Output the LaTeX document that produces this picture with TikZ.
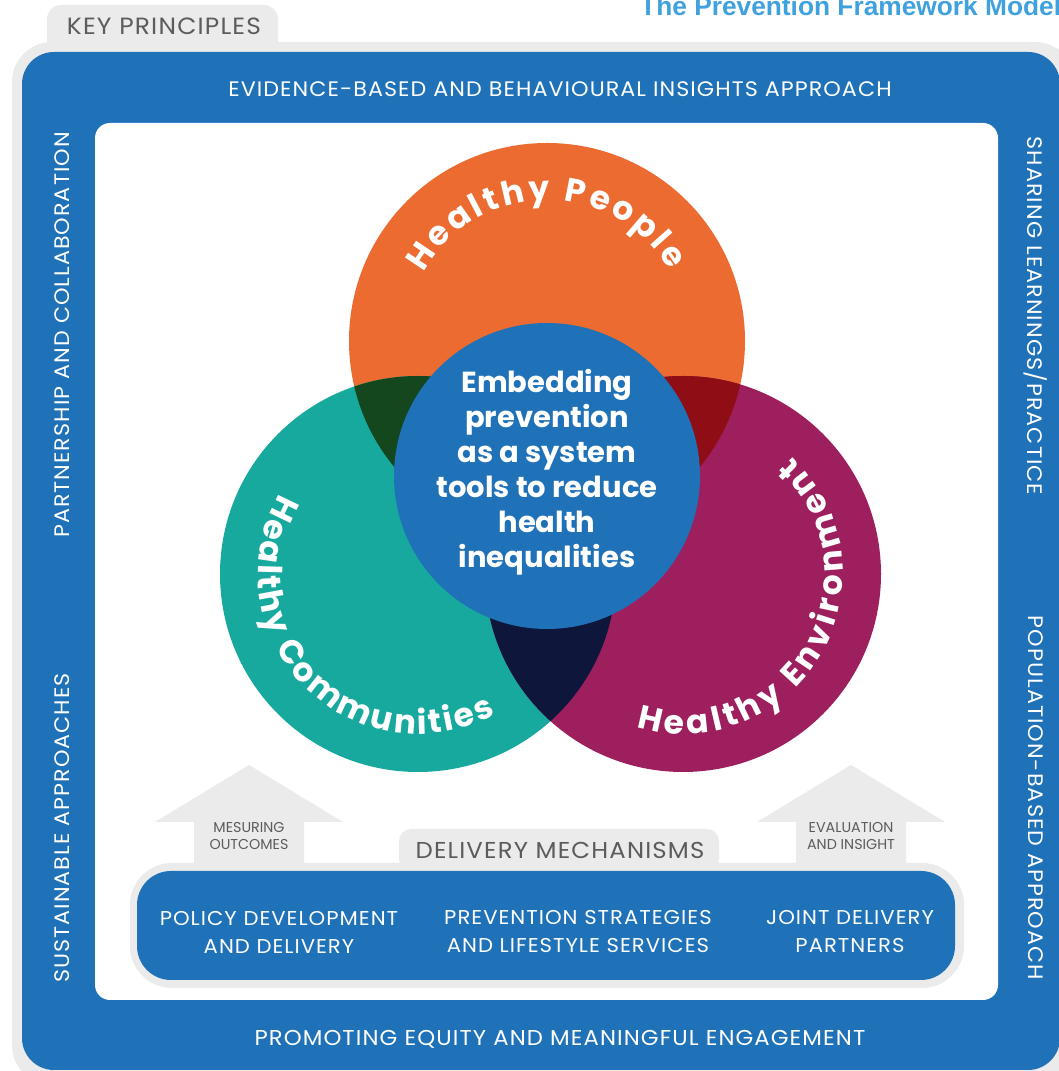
\documentclass[tikz,border=0pt]{standalone}
\usepackage{fontspec}
\setmainfont{Poppins}
\newfontfamily\popf{Poppins}
\newfontfamily\popw{Poppins}[FakeStretch=1.06, LetterSpace=5]
\newfontfamily\titlef{Liberation Sans}
\usetikzlibrary{decorations.text}
\definecolor{blueM}{HTML}{1F71B8}
\definecolor{greyL}{HTML}{EBEBEB}
\definecolor{orangeC}{HTML}{EC6B30}
\definecolor{tealC}{HTML}{17A99E}
\definecolor{magC}{HTML}{9E1F5E}
\definecolor{dkgreen}{HTML}{14471E}
\definecolor{dkred}{HTML}{8F0D15}
\definecolor{navyC}{HTML}{0E163C}
\definecolor{txtgrey}{HTML}{5C5C5C}
\definecolor{titleblue}{HTML}{3FA1DD}
\newcommand\crcfont{\popf\bfseries\fontsize{33}{33}\selectfont}
\begin{document}
\begin{tikzpicture}[x=1pt, y=1pt,
  princ/.style={text=white, font=\popw\fontsize{21}{25}\selectfont, inner sep=0pt},
  tabtxt/.style={text=txtgrey, font=\popw\fontsize{23}{27}\selectfont, inner sep=0pt, anchor=base},
  boxtxt/.style={text=white, font=\popw\fontsize{20}{28}\selectfont, align=center, inner sep=0pt},
  arrtxt/.style={text=txtgrey, font=\popf\fontsize{14.3}{17}\selectfont, align=center, inner sep=0pt},
  ctext/.style={text=white, font=\popf\bfseries\fontsize{29}{35}\selectfont, anchor=base, inner sep=0pt},
  venn/.style={circle, inner sep=0pt, minimum size=396},
  arctext/.style={decorate, decoration={text along path, text={|\crcfont|#1}, text align={fit to path}, text color=white}},
  greyarrow/.style={fill=greyL}
]
\useasboundingbox (0,0) rectangle (1059,1071);
\begin{scope}
\clip (0,0) rectangle (1059,1071);
% title
\node[text=titleblue, font=\titlef\bfseries\fontsize{26.3}{30}\selectfont, anchor=base west, inner sep=0pt] (title) at (640,1055) {The Prevention Framework Model};
% outer frames
\fill[greyL, rounded corners=14] (47,1000) -- (47,1066) -- (278,1066) -- (278,1000) -- cycle;
\fill[greyL, rounded corners=40] (12,-14) rectangle (1075,1029);
\fill[blueM, rounded corners=32] (22,1) rectangle (1060,1019);
\fill[white, rounded corners=15] (95,71) rectangle (998,948);
\node[tabtxt, font=\popw\fontsize{23.5}{27}\selectfont] (kp) at (164,1036) {KEY PRINCIPLES};
% principles
\node[princ, anchor=base] (p1) at (560,974) {EVIDENCE-BASED AND BEHAVIOURAL INSIGHTS APPROACH};
\node[princ, anchor=base, font=\popw\fontsize{21.5}{25}\selectfont] (p2) at (560,25) {PROMOTING EQUITY AND MEANINGFUL ENGAGEMENT};
\node[princ, rotate=90] (p3) at (62,736) {PARTNERSHIP AND COLLABORATION};
\node[princ, rotate=90] (p4) at (62,243) {SUSTAINABLE APPROACHES};
\node[princ, rotate=-90] (p5) at (1036,755) {SHARING LEARNINGS/PRACTICE};
\node[princ, rotate=-90] (p6) at (1036,273) {POPULATION-BASED APPROACH};
% venn circles
\node[venn, fill=orangeC] (hp) at (547,730) {};
\node[venn, fill=tealC] (hc) at (418,497) {};
\node[venn, fill=magC] (he) at (683,497) {};
\begin{scope}
\clip (hp.center) circle[radius=198];
\fill[dkgreen] (hc.center) circle[radius=198];
\fill[dkred] (he.center) circle[radius=198];
\end{scope}
\begin{scope}
\clip (hc.center) circle[radius=198];
\fill[navyC] (he.center) circle[radius=198];
\end{scope}
\node[circle, inner sep=0pt, minimum size=306, fill=blueM] (core) at (547,595) {};
\node[ctext] (c1) at (547,678) {Embedding};
\node[ctext] (c2) at (547,643) {prevention};
\node[ctext] (c3) at (547,608) {as a system};
\node[ctext] (c4) at (547,573) {tools to reduce};
\node[ctext] (c5) at (547,538) {health};
\node[ctext] (c6) at (547,503) {inequalities};
% curved labels
\path[arctext={Healthy People}] ([shift={(151:141)}]hp.center) arc[start angle=151, end angle=30, radius=141];
\path[arctext={Healthy Communities}] ([shift={(150:160)}]hc.center) arc[start angle=150, end angle=299, radius=160];
\path[arctext={Healthy Environment}] ([shift={(253:160)}]he.center) arc[start angle=253, end angle=407, radius=160];
% delivery mechanisms
\fill[greyarrow] (194,195) -- (194,249) -- (155,249) -- (249,306) -- (343,249) -- (304,249) -- (304,195) -- cycle;
\fill[greyarrow] (796,195) -- (796,249) -- (757,249) -- (851,306) -- (945,249) -- (906,249) -- (906,195) -- cycle;
\fill[greyL, rounded corners=12] (399,200) -- (399,242) -- (719,242) -- (719,200) -- cycle;
\fill[greyL, rounded corners=42] (130,83) rectangle (964,208);
\fill[blueM, rounded corners=34] (137,91) rectangle (955,200);
\node[arrtxt] (a1) at (249,235) {MESURING\\OUTCOMES};
\node[arrtxt] (a2) at (851,235) {EVALUATION\\AND INSIGHT};
\node[tabtxt] (dm) at (560,212) {DELIVERY MECHANISMS};
\node[boxtxt] (d1) at (279,139) {POLICY DEVELOPMENT\\AND DELIVERY};
\node[boxtxt] (d2) at (578,139) {PREVENTION STRATEGIES\\AND LIFESTYLE SERVICES};
\node[boxtxt] (d3) at (850,139) {JOINT DELIVERY\\PARTNERS};
\end{scope}
\end{tikzpicture}
\end{document}
